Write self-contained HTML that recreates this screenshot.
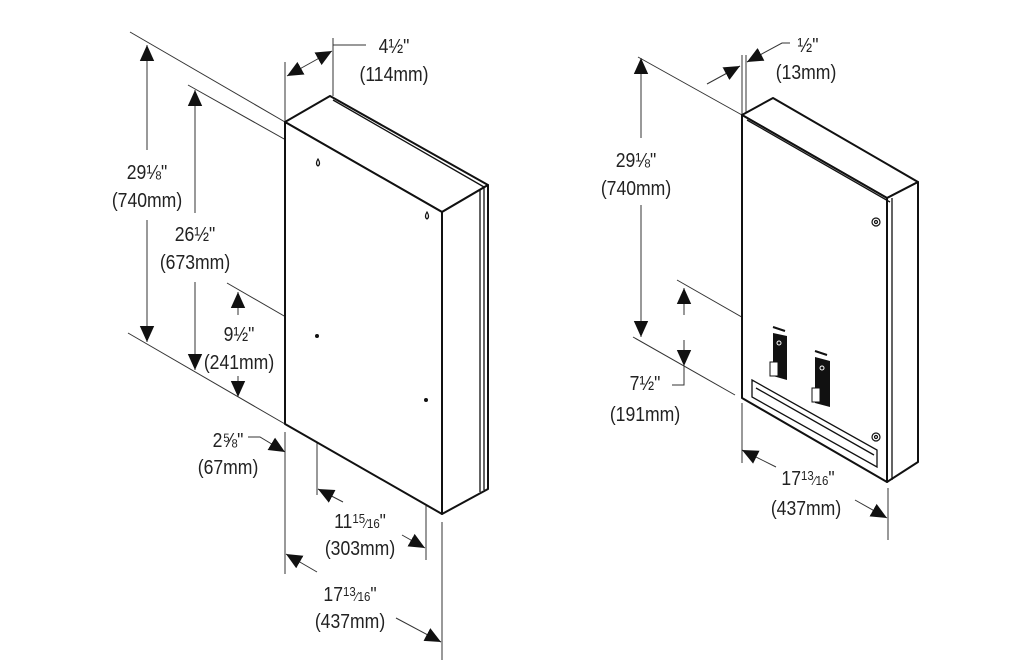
<!DOCTYPE html>
<html><head><meta charset="utf-8"><style>
html,body{margin:0;padding:0;background:#fff;}
svg{display:block;}
text{font-family:"Liberation Sans",sans-serif;font-size:20px;fill:#222;}
</style></head><body>
<svg width="1025" height="672" viewBox="0 0 1025 672" xmlns="http://www.w3.org/2000/svg">
<defs>
<marker id="a" viewBox="0 0 10 10" refX="10" refY="5" markerWidth="16" markerHeight="16" markerUnits="userSpaceOnUse" orient="auto-start-reverse">
<path d="M0,0.5 L10,5 L0,9.5 z" fill="#111"/>
</marker>
</defs>
<g stroke="#333" stroke-width="1" fill="none">
<line x1="130" y1="32" x2="285" y2="122"/>
<line x1="188" y1="85" x2="318" y2="158"/>
<line x1="227" y1="283" x2="317" y2="335"/>
<line x1="128" y1="333" x2="285" y2="424"/>
<line x1="285" y1="62" x2="285" y2="122"/>
<line x1="333" y1="38" x2="333" y2="96"/>
<line x1="333" y1="45" x2="366" y2="45"/>
<line x1="285" y1="432" x2="285" y2="574"/>
<line x1="317" y1="340" x2="317" y2="495"/>
<line x1="426" y1="404" x2="426" y2="560"/>
<line x1="442" y1="522" x2="442" y2="660"/>
<line x1="147" y1="45" x2="147" y2="150" marker-start="url(#a)"/>
<line x1="147" y1="220" x2="147" y2="342" marker-end="url(#a)"/>
<line x1="195" y1="90" x2="195" y2="213" marker-start="url(#a)"/>
<line x1="195" y1="282" x2="195" y2="370" marker-end="url(#a)"/>
<line x1="238" y1="292" x2="238" y2="315" marker-start="url(#a)"/>
<line x1="238" y1="376" x2="238" y2="397" marker-end="url(#a)"/>
<line x1="287" y1="76" x2="332" y2="51" marker-start="url(#a)" marker-end="url(#a)"/>
<polyline points="248,437 260,437 285,452" marker-end="url(#a)"/>
<line x1="343" y1="502" x2="318" y2="489" marker-end="url(#a)"/>
<line x1="402" y1="535" x2="425" y2="548" marker-end="url(#a)"/>
<line x1="317" y1="572" x2="286" y2="554" marker-end="url(#a)"/>
<line x1="396" y1="618" x2="441" y2="642" marker-end="url(#a)"/>
</g>
<g stroke="#111" stroke-width="2" fill="#fff" stroke-linejoin="round">
<polygon points="285,122 330,96 488,185 442,212"/>
<polygon points="442,212 488,185 488,489 442,514"/>
<polygon points="285,122 442,212 442,514 285,424"/>
</g>
<g stroke="#111" stroke-width="1.3" fill="none">
<line x1="333" y1="100" x2="484" y2="187"/>
<line x1="480" y1="190" x2="480" y2="492"/>
<line x1="484" y1="188" x2="484" y2="490"/>
</g>
<g fill="#fff" stroke="#111" stroke-width="1.2">
<path d="M318,159 q-3,5 0,7 q3,-2 0,-7z"/>
<path d="M427,212 q-3,5 0,7 q3,-2 0,-7z"/>
</g>
<circle cx="317" cy="336" r="2" fill="#111"/>
<circle cx="426" cy="400" r="2" fill="#111"/>
<g text-anchor="middle">
<text transform="translate(147,179) scale(0.88,1)">29⅛"</text><text transform="translate(147,207) scale(0.88,1)">(740mm)</text>
<text transform="translate(195,241) scale(0.88,1)">26½"</text><text transform="translate(195,269) scale(0.88,1)">(673mm)</text>
<text transform="translate(239,341) scale(0.88,1)">9½"</text><text transform="translate(239,369) scale(0.88,1)">(241mm)</text>
<text transform="translate(228,447) scale(0.88,1)">2⅝"</text><text transform="translate(228,474) scale(0.88,1)">(67mm)</text>
<text transform="translate(394,53) scale(0.88,1)">4½"</text><text transform="translate(394,81) scale(0.88,1)">(114mm)</text>
<text transform="translate(360,528) scale(0.88,1)">11<tspan font-size="13" dy="-5">15</tspan><tspan font-size="13" dy="5">⁄16</tspan>"</text><text transform="translate(360,555) scale(0.88,1)">(303mm)</text>
<text transform="translate(350,601) scale(0.88,1)">17<tspan font-size="13" dy="-5">13</tspan><tspan font-size="13" dy="5">⁄16</tspan>"</text><text transform="translate(350,628) scale(0.88,1)">(437mm)</text>
</g>

<g stroke="#333" stroke-width="1" fill="none">
<line x1="638" y1="57" x2="742" y2="115"/>
<line x1="633" y1="337" x2="735" y2="395"/>
<line x1="677" y1="280" x2="768" y2="332"/>
<line x1="742" y1="55" x2="742" y2="115"/>
<line x1="746" y1="55" x2="746" y2="112"/>
<line x1="742" y1="403" x2="742" y2="463"/>
<line x1="888" y1="488" x2="888" y2="540"/>
<line x1="641" y1="58" x2="641" y2="138" marker-start="url(#a)"/>
<line x1="641" y1="205" x2="641" y2="337" marker-end="url(#a)"/>
<line x1="707" y1="84" x2="740" y2="66" marker-end="url(#a)"/>
<polyline points="790,43 782,43 747,62" marker-end="url(#a)"/>
<line x1="684" y1="288" x2="684" y2="315" marker-start="url(#a)"/>
<line x1="684" y1="340" x2="684" y2="366" marker-end="url(#a)"/>
<polyline points="684,366 684,385 672,385"/>
<line x1="776" y1="467" x2="742" y2="450" marker-end="url(#a)"/>
<line x1="855" y1="500" x2="887" y2="518" marker-end="url(#a)"/>
</g>
<g stroke="#111" stroke-width="2" fill="#fff" stroke-linejoin="round">
<polygon points="742,115 773,98 918,182 887,198"/>
<polygon points="887,198 918,182 918,462 887,482"/>
<polygon points="742,115 887,198 887,482 742,398"/>
</g>
<g stroke="#111" stroke-width="1.3" fill="none">
<line x1="747" y1="120" x2="890" y2="202"/>
<line x1="892" y1="198" x2="892" y2="480"/>
<polygon points="752,380 877,450 877,467 752,397"/>
<line x1="756" y1="388" x2="874" y2="455"/>
</g>
<g stroke="#111" stroke-width="1.2" fill="#fff">
<circle cx="876" cy="222" r="4"/><circle cx="876" cy="222" r="1.5"/>
<circle cx="876" cy="437" r="4"/><circle cx="876" cy="437" r="1.5"/>
</g>
<g>
<line x1="773" y1="327" x2="785" y2="331" stroke="#111" stroke-width="2"/>
<polygon points="773,333 787,336 787,380 773,376" fill="#111"/>
<rect x="770" y="362" width="8" height="14" fill="#fff" stroke="#111"/>
<circle cx="779" cy="343" r="2" fill="none" stroke="#fff"/>
<line x1="815" y1="351" x2="827" y2="355" stroke="#111" stroke-width="2"/>
<polygon points="815,357 830,361 830,407 815,403" fill="#111"/>
<rect x="812" y="388" width="8" height="14" fill="#fff" stroke="#111"/>
<circle cx="822" cy="368" r="2" fill="none" stroke="#fff"/>
</g>
<g text-anchor="middle">
<text transform="translate(808,52) scale(0.88,1)">½"</text><text transform="translate(806,79) scale(0.88,1)">(13mm)</text>
<text transform="translate(636,167) scale(0.88,1)">29⅛"</text><text transform="translate(636,195) scale(0.88,1)">(740mm)</text>
<text transform="translate(645,390) scale(0.88,1)">7½"</text><text transform="translate(645,421) scale(0.88,1)">(191mm)</text>
<text transform="translate(808,485) scale(0.88,1)">17<tspan font-size="13" dy="-5">13</tspan><tspan font-size="13" dy="5">⁄16</tspan>"</text><text transform="translate(806,515) scale(0.88,1)">(437mm)</text>
</g>
</svg>
</body></html>
